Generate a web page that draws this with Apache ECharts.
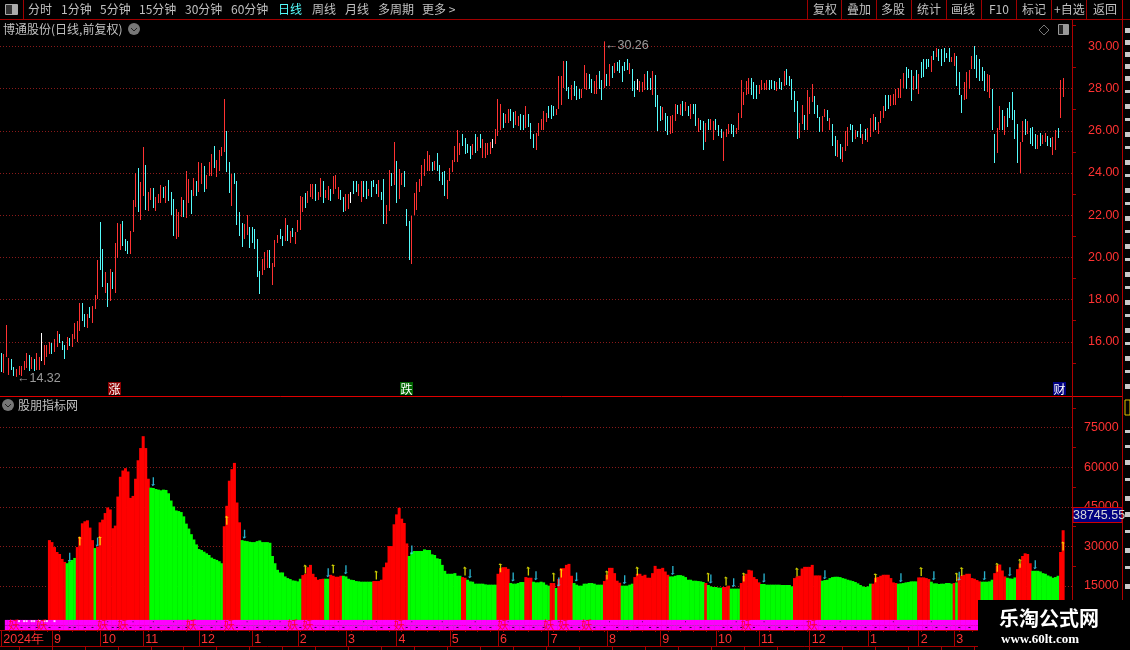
<!DOCTYPE html>
<html><head><meta charset="utf-8">
<style>html,body{margin:0;padding:0;background:#000}#c{width:1130px;height:650px}</style>
<script src="https://cdn.jsdelivr.net/npm/echarts@6/dist/echarts.min.js"></script>
</head><body><div id="c"></div>
<script>
const priceHigh=[
15.48,15.44,16.78,15.24,15.16,14.8,14.73,14.87,14.87,15.11,
15.48,15.35,15.29,15.16,15.48,15.29,16.4,15.83,15.83,16,
15.95,16.11,16.49,16.35,16.06,15.83,16.24,16.19,16.35,16.9,
16.97,17.86,17.83,17.3,17.3,17.67,17.7,18.2,19.87,21.67,
20.4,19.29,18.8,19.44,19.29,20.67,21.63,21.59,21.71,20.87,
20.79,21.24,22.71,24,24.25,23.55,25.25,24.4,23.1,23.3,
23.3,22.85,23,23.45,23.35,23.4,23.67,23.1,22.76,22.3,
22.16,22.85,22.7,24.1,23.7,23.2,23.75,23.6,24.5,24.45,
24.35,23.9,24.5,24.9,25.3,24.6,25.1,25.25,27.5,26,
24.5,23.95,24,23.63,22.14,21.62,21.6,22,21.43,21.43,
21.35,20.87,19.37,19.92,20.24,20.35,20.35,19.73,20.83,21.06,
21.35,21.03,21.87,21.54,21.27,21.4,21.19,21.75,22.9,22.85,
23.03,23.15,23.47,23.47,23.5,23.08,23.78,23.63,23.2,23.4,
23.24,23.84,23.92,23.35,23.2,22.85,23,23,23.1,23.6,
23.63,23.47,23.62,23.63,23.6,23.24,23.63,23.68,23.47,23.68,
23.11,23.73,22.49,24.14,24,25.49,24.59,24.2,24,24.1,
22.3,21.73,21.97,23.03,23.59,23.71,24.4,24.67,25.06,24.83,
24.54,24.59,24.97,24.37,24.06,24.11,23.68,24.22,24.63,25.3,
26.02,25.43,25.83,25.68,25.35,25.27,25.35,25.83,25.7,25.83,
25.62,25.44,25.41,25.46,25.59,26.1,27.49,27.25,26.86,26.78,
27.02,27.05,26.87,26.92,26.7,26.81,26.73,27.16,26.81,26.38,
25.86,25.89,26.38,26.57,26.92,26.86,27.16,27.21,27.16,27.02,
28.59,28.59,29.3,29.3,28.08,28.19,28.35,28.11,28,28,
29.11,28.76,28.68,28.44,28.35,28.63,28.83,28.43,30.26,28.68,
29.16,29.06,29.22,29.25,29.35,29.08,29.25,29.4,29.22,28.92,
28.35,28.44,28.35,28.29,28.68,28.83,28.52,28.83,28.63,27.68,
27.16,27.11,26.86,26.68,26.68,26.73,27.29,27.21,27.29,27.4,
27.37,27.16,27.25,27.25,27.29,26.62,26.49,26.44,26.38,26.57,
26.57,26.46,26.57,26.25,26.1,25.94,26.1,26.33,26.33,26.25,
26.14,26.86,28.4,27.84,28.35,28.51,28.48,28.29,28.19,28.16,
28.4,28.27,28.4,28.4,28.4,28.35,28.32,28.48,28.32,28.84,
28.92,28.59,28.44,27.89,27.4,26.37,27.21,26.73,27.92,27.6,
28.24,27.63,27.21,26.65,26.68,27.05,27,26.62,26.3,25.73,
25.54,25.35,25.22,26,26.17,26.33,26.25,26.05,25.98,26.3,
25.86,26.1,26.14,26.62,26.78,26.65,26.41,26.92,27.17,27.68,
27.68,27.68,27.76,28,28.03,28.44,28.75,29.03,28.92,28.87,
28.59,28.87,28.68,29.27,29.38,29.38,29.4,29.54,29.79,29.94,
29.86,29.86,29.94,29.7,29.9,29.5,29.7,29.54,28.79,27.71,
28.32,28.79,28.9,29.54,30,29.59,29.38,29.03,28.84,28.71,
28.63,28,25.86,26.14,27.16,26.97,26.68,27.1,27.37,27.84,
27,26.3,25.46,26.46,26.57,26.46,26.14,26.2,25.86,25.78,
25.9,25.78,25.9,25.75,25.67,25.7,26.06,26.14,28.4,28.49];
const priceLow=[
14.55,14.5,15.27,14.41,14.65,14.4,14.32,14.41,14.37,14.68,
14.75,14.63,14.71,14.63,14.68,14.68,15.11,14.92,15.27,15.43,
15.44,15.5,15.76,15.92,15.6,15.2,15.63,15.79,15.76,16.14,
15.98,16.51,16.98,16.71,16.63,17.14,16.87,17.54,18.05,19.41,
18.6,18.33,17.65,17.94,18.49,18.3,19.95,20.37,20.52,20.32,
20.16,20.16,21.22,22.37,22.13,21.79,22.9,22.25,22.2,22.7,
22.33,22.2,22.6,22.6,22.8,22.6,22.65,22.02,21.02,20.87,
20.95,21.9,21.9,21.87,22.6,22.06,22.9,22.9,23.1,23.5,
23.1,23.25,23.85,23.85,24.25,23.8,24.1,24.8,25,24.05,
23.05,22.45,23.5,21.54,21.03,20.5,20.87,21.06,20.44,20.68,
20.4,19.08,18.25,19.16,19.41,19.52,19.5,18.68,19.56,20.68,
20.87,20.56,20.79,20.79,20.68,20.95,20.63,21.22,21.3,22.17,
22.33,22.6,22.85,22.76,22.68,22.7,22.85,22.6,22.8,22.7,
22.65,23,23.24,22.76,22.7,22.17,22.22,22.27,22.6,23,
23.1,22.9,22.63,22.85,22.76,22.9,22.85,23.35,23,22.85,
22.73,21.6,21.6,22.2,23.37,23.44,22.6,22.79,23.44,23.32,
21.49,19.87,19.67,22.02,22.25,23.11,23.4,23.84,24.11,24.11,
24.11,24.16,24.11,23.6,23.44,22.89,22.79,23.63,24.06,24.54,
24.5,24.86,25.27,24.9,24.95,24.65,24.87,24.94,25.02,25.19,
24.7,24.7,24.87,24.9,25.17,25.38,25.75,26.02,26.13,26.38,
26.37,26.44,26.13,26.25,26.22,26.06,26.06,26.14,26.17,25.59,
25.17,25.11,25.75,26.06,26.05,26.41,26.62,26.57,26.68,26.73,
27.02,27.21,28.05,27.89,27.52,27.44,27.63,27.44,27.52,27.57,
28,27.95,28,27.79,27.76,27.73,28,27.44,28.05,28.11,
28.11,28.51,28.75,28.84,28.76,28.32,28.84,28.9,28.67,27.89,
27.6,27.92,27.84,27.84,27.95,27.92,27.92,27.68,27.13,25.98,
26.46,26.49,25.97,25.78,25.86,25.89,26.46,26.78,26.73,26.7,
26.92,26.68,26.54,26.78,26.21,25.94,26.02,25.11,25.49,26.02,
26.02,25.54,26.06,25.73,25.67,24.59,25.7,25.83,25.86,25.7,
25.83,26.02,26.62,27.21,27.68,27.76,27.68,27.49,27.52,27.76,
27.95,27.92,27.92,27.95,28,27.92,27.87,28,27.95,28.11,
28.19,28.11,27.44,26.89,25.59,25.67,26.33,26.05,26.05,26.78,
27.37,26.78,26.62,25.94,25.94,26.65,26.46,26.05,25.27,24.79,
24.75,24.67,24.5,25.02,25.3,26.06,25.49,25.62,25.7,25.67,
25.35,25.54,25.46,25.7,25.94,26.02,25.86,26.37,26.6,26.92,
27.05,27.17,27.21,27.21,27.56,27.56,28.03,28,28.48,27.4,
27.95,28,27.76,28.52,28.56,28.95,29.03,28.79,29.35,29.48,
29.3,29.08,29.27,29.45,29.27,29.24,29.08,28.11,27.68,26.84,
27.48,27.52,28,28.95,28.95,28.52,28.35,28.35,27.87,27.84,
27.57,26.06,24.46,24.95,26.02,26.05,25.78,26.17,26.6,26.52,
25.62,24.46,24,25.46,25.78,25.86,25.35,25.27,25.14,25.14,
25.27,25.38,25.46,25.27,25.22,24.87,25.11,25.65,26.6,27.6];
const priceDirRows=[
"crrrccrrrr","rcrcrrwrrr","crrcccrcrr","rrccrcrrrc","crcrcrrrcc",
"crrrcrrcrr","crrrcrcccr","rrcrrcrcrr","crrrcrrrrc","crccccrrcc",
"cccrrrcrrr","ccrcrcrrrr","crrrcrrcrr","crrrccrrwc","crrccrcccr",
"ccrrcrcrrc","ccrrrrrrrr","crccccrrrr","rrccccrcrc","rrrrwrrrcr",
"rccrrccrcc","crrrrrcccr","rrrccrcccr","rrccrrccrc","rcrcccccrc",
"cwrrrccrcc","crccrrrcrc","rcrccrccrc","rrcccrrrcc","rrrrrrcccr",
"rrrcccrccr","cccccrrcrr","rcccrrcrcc","rcrrrccrcc","rcrrrcrrrc",
"crrrrrrccc","rcrccccrcr","cccccrrccc","rrrrcccccr","rccrrcrccc",
"ccrrcrcccr","crrccrrcrr"];
const volumeValues=[
32375,31625,29750,27875,27125,25250,24125,
23625,24375,24875,25625,
29750,33625,38750,39500,39875,37125,32375,
29375,
29875,39125,40125,42625,44750,44000,36875,37875,48875,56375,58750,59625,58375,48375,49125,55625,62625,67250,71750,67250,55625,
52250,52125,51750,51500,51250,51500,51375,50125,47375,45125,43625,43375,43000,41375,38625,36750,34625,32625,30750,29000,28625,28000,27375,26750,25750,25250,24875,24375,23625,
37625,45375,54875,59250,61625,46625,39125,
32375,32125,32000,31750,31625,31625,32000,32250,31625,31625,31625,31375,26375,23625,21125,20125,20125,18625,18000,17625,17125,17000,16750,17750,
19125,19625,22125,23000,19625,18375,17375,17625,17750,
17750,17750,
19250,18875,18500,18500,18875,
18875,18625,17750,17375,17250,16875,16750,16625,16625,16625,16625,16625,
16875,16875,16875,17375,22125,23875,30125,30125,38375,42125,44625,40500,38875,31125,
26375,27750,28250,28250,28250,28250,28875,28625,28625,27000,26750,25500,25250,23000,20750,19625,19625,19625,19875,18875,18875,
18375,18125,
17375,16750,16625,15875,15875,15875,15875,15625,15500,15500,15500,15500,
19625,21750,22125,22125,21500,
16125,15875,15875,16125,16500,16500,
18375,18125,18125,
16625,16375,16375,16625,16375,15500,15125,
16125,16125,
14250,
17625,21750,21750,23000,23375,18875,
16125,15500,15125,15125,15875,15875,16125,16125,15875,15500,15500,15500,
16875,19250,21875,21875,19875,17000,16250,
15125,15125,15125,15500,15875,
18375,19625,19625,18875,19250,18125,18125,19875,22625,21500,21500,21875,20500,19250,
18625,18625,18875,19125,19125,18875,18375,17375,17375,17000,17000,16875,16750,16500,
16125,
15375,14875,14625,14625,14375,14375,
14625,14625,15125,
14000,14000,14000,14000,
16125,18875,19625,21125,20875,18375,17625,16375,
15750,15750,15500,15500,15500,15500,15500,15500,15375,15375,15375,15375,14875,
18000,18625,18875,21625,22250,22250,22250,23000,19000,19000,19000,
17000,17250,17375,18000,18375,18500,18500,18375,18000,17750,17375,17125,16875,16500,16000,15375,14875,14625,14875,15875,
15875,18125,18375,18875,19250,19250,19250,18000,16375,16125,
15875,16000,16125,16375,16500,16750,16750,16750,
18250,18250,18250,18000,17625,
16625,16000,16000,15750,15875,15875,16125,16125,15875,
16125,
16375,
18250,19000,19250,19625,19625,18000,17750,17250,16750,
16625,16625,16625,16750,17375,
19875,22750,23125,20875,18625,
18125,17875,17750,18250,
21375,23500,26375,27375,27125,23625,
20750,20750,20750,20500,19875,19625,19000,18625,18125,18375,18875,
27875,36125];
const volumeRuns=[7,4,7,1,21,29,7,24,9,2,5,12,14,21,2,12,5,6,3,7,2,1,6,12,7,5,14,14,1,6,3,4,8,13,11,20,10,8,5,9,1,1,9,5,5,4,6,11,2];
const volumeStart=19;
const priceTicks=[16,18,20,22,24,26,28,30];
const priceMinorTicks=[15,17,19,21,23,25,27,29,31];
const volTicks=[15000,30000,45000,60000,75000];
const volMinorTicks=[7500,22500,37500,52500,67500,82500];
const monthIdx=[0,20,39,56,78,99,117,136,156,177,196,216,239,260,282,299,319,342,362,376];
const monthNames=["2024年","9","10","11","12","1","2","3","4","5","6","7","8","9","10","11","12","1","2","3"];
const yaoIdx=[5,16,40,48,75,90,115,121,157,198,216,222,231,294,320];
const stripDotIdx=[8,11,14,19,23,27,29,33,36,44,46,51,55,59,62,66,70,73,79,83,87,93,96,101,104,108,112,118,124,127,131,135,140,146,150,153,160,164,168,171,176,180,185,189,193,202,206,210,214,225,228,234,238,243,247,251,256,259,263,268,272,276,279,285,288,292,297,303,307,310,314,325,329,333,337,341,345,349,354,358,365,369,373,378,382];
const stripTopDotIdx=[42,52,60,68,85,97,106,110,133,143,148,162,174,187,200,220,240,253,270,290,301,318,331,352,367];
const stripWhiteIdx=[7,9,10,12,13,15,17,18,21];
const toolbarLeft=[["分时",28],["1分钟",61],["5分钟",100],["15分钟",139],["30分钟",185],["60分钟",231],["日线",278,"#54fcfc"],["周线",312],["月线",345],["多周期",378],["更多 >",422]];
const toolbarRight=[["复权",813],["叠加",847],["多股",881],["统计",917],["画线",951],["F10",989],["标记",1022],["+自选",1054],["返回",1093]];
const toolbarSeps=[807.5,841.5,876.5,911.5,946.5,981.5,1016.5,1051.5,1086.5];
const badges=[["涨",108,"#8b0000"],["跌",400,"#006400"],["财",1053,"#000080"]];
const sideDashY=[28,40,52,64,76,90,104,118,132,146,160,174,188,202,216,230,244,258,272,286,300,314,328,342,356,370,384,430,445,460,478,496,512,530,548,566,584];

const CN='"Noto Sans CJK SC","Noto Sans",sans-serif';
const LAT='"Liberation Sans",Arial,sans-serif';
const RED='#ff3232',CY='#54fcfc',GRN='#00ff00',BR='#ff0000',AXIS='#a80000',DOT='#8a1a1a';
const N=423;
const categories=new Array(N).fill('');
monthIdx.forEach((m,i)=>categories[m]=monthNames[i]);
const monthSet=new Set(monthIdx);
const dirs=priceDirRows.join('');
const candles=priceHigh.map((h,i)=>[i,priceLow[i],h]);
const dirColor={r:RED,c:CY,w:'#ffffff'};
const volData=new Array(N).fill(null);
const upArrows=[],downArrows=[];
let p=0;
volumeRuns.forEach((len,r)=>{
  const red=r%2===0;
  const first=volumeStart+p;
  const firstVal=volumeValues[p];
  for(let k=0;k<len;k++){
    volData[volumeStart+p]={value:volumeValues[p],itemStyle:{color:red?BR:GRN}};
    p++;
  }
  if(r>0)(red?upArrows:downArrows).push([first+1,firstVal]);
});
const stripTop=categories.map((c,i)=>i>=2&&i<=386?2150:null);
const stripBottom=categories.map((c,i)=>i>=2&&i<=386?-1667:null);

const g=[];
const txt=(s,x,y,fill,size,extra)=>g.push(Object.assign({type:'text',z:50,x,y,style:Object.assign({text:s,fill,font:`${size||12}px ${CN}`,textVerticalAlign:'middle'},extra||{})}));
const rect=(x,y,w,h,fill,stroke,z)=>g.push({type:'rect',z:z||50,shape:{x,y,width:w,height:h},style:{fill:fill||'none',stroke:stroke||'none',lineWidth:1}});
const line=(x1,y1,x2,y2,c,z)=>g.push({type:'line',z:z||40,shape:{x1,y1,x2,y2},style:{stroke:c,lineWidth:1}});
line(0,19.5,1130,19.5,'#a00000');
line(0,396.5,1123,396.5,'#e00000');
line(1072.5,20,1072.5,630,'#b00000');
line(1122.5,0,1122.5,600,'#b00000');
line(23.5,0,23.5,19,'#a00000');
rect(5.5,4.5,12,10,'#333','#aaa');rect(12,5,5,9,'#aaa');
toolbarLeft.forEach(t=>txt(t[0],t[1],9.5,t[2]||'#c0c0c0',12));
toolbarRight.forEach(t=>txt(t[0],t[1],9.5,'#c0c0c0',12));
toolbarSeps.forEach(x=>line(x,0,x,19,'#a00000'));
txt('博通股份(日线,前复权)',3,29.5,'#c0c0c0',12);
g.push({type:'circle',z:50,shape:{cx:134,cy:29,r:6},style:{fill:'#777'}});
g.push({type:'polyline',z:51,shape:{points:[[131,28],[134,31],[137,28]]},style:{stroke:'#222',lineWidth:1,fill:'none'}});
g.push({type:'polygon',z:50,shape:{points:[[1044,25],[1049,30],[1044,35],[1039,30]]},style:{stroke:'#777',fill:'none',lineWidth:1}});
rect(1058.5,24.5,10,10,'#222','#999');rect(1063,25,5,9,'#999');
g.push({type:'circle',z:50,shape:{cx:8,cy:405,r:6},style:{fill:'#777'}});
g.push({type:'polyline',z:51,shape:{points:[[5,404],[8,407],[11,404]]},style:{stroke:'#222',lineWidth:1,fill:'none'}});
txt('股朋指标网',18,405.5,'#c0c0c0',12);
badges.forEach(b=>{rect(b[1],382,13,13,b[2]);txt(b[0],b[1]+0.5,389,'#ffffff',12);});
rect(1073,507.5,49,15,'#000080','#d00000',60);
txt('38745.55',1073,515.5,'#d8d8d8',12.5,{font:`12.5px ${LAT}`});g[g.length-1].z=61;
sideDashY.forEach(y=>rect(1125,y,5,y%4===0?5:3,'#c8c8c8'));
rect(1125,400,5,15,'#000','#e0c000');
rect(978,600,152,50,'#000',null,100);
txt('乐淘公式网',999,618.5,'#ffffff',20,{font:`bold 20px ${CN}`});g[g.length-1].z=101;
txt('www.60lt.com',1001,640,'#ffffff',13,{font:'bold 13px "Liberation Serif",serif'});g[g.length-1].z=101;

const chart=echarts.init(document.getElementById('c'),null,{renderer:'canvas'});
const dotted=vals=>({silent:true,symbol:'none',animation:false,z:1,label:{show:false},
  lineStyle:{type:[1,2],color:DOT,width:1},data:vals.map(v=>({yAxis:v}))});
const upPath='path://M2 0L4 2L3 2L3 10L2 10L2 2L1 2Z';
const downPath='path://M2 10L4 8L3 8L3 0L2 0L2 8L1 8Z';
chart.setOption({
  backgroundColor:'#000',animation:false,
  textStyle:{fontFamily:LAT},
  grid:[{left:0,right:58,top:20,height:376},{left:0,right:58,top:397,height:233}],
  xAxis:[
    {type:'category',gridIndex:0,data:categories,show:false},
    {type:'category',gridIndex:1,data:categories,boundaryGap:true,
      axisLine:{onZero:false,lineStyle:{color:AXIS}},
      axisTick:{show:true,alignWithLabel:true,length:16,lineStyle:{color:AXIS},interval:i=>monthSet.has(i)},
      axisLabel:{interval:0,color:RED,fontSize:12.5,fontFamily:LAT,align:'left',margin:3,padding:[0,0,0,2],hideOverlap:false}},
    {type:'category',gridIndex:1,data:categories,position:'bottom',
      axisLine:{show:false,onZero:false},axisLabel:{show:false},
      axisTick:{show:true,alignWithLabel:true,length:2,lineStyle:{color:AXIS},interval:i=>i%5===3}},
    {type:'category',gridIndex:1,data:categories,position:'bottom',offset:16,
      axisLine:{show:true,onZero:false,lineStyle:{color:AXIS}},axisLabel:{show:false},
      axisTick:{show:true,alignWithLabel:true,length:4,lineStyle:{color:AXIS},interval:i=>i%13===7}}
  ],
  yAxis:[
    {type:'value',gridIndex:0,position:'right',min:13.43,max:31.25,scale:true,
      axisLine:{show:true,lineStyle:{color:AXIS}},splitLine:{show:false},
      axisTick:{show:true,length:4,lineStyle:{color:AXIS},customValues:priceMinorTicks},
      axisLabel:{color:RED,fontSize:12.5,fontFamily:LAT,margin:16,align:'left',customValues:priceTicks,formatter:v=>v.toFixed(2)}},
    {type:'value',gridIndex:1,position:'right',min:-1667,max:86590,
      axisLine:{show:true,lineStyle:{color:AXIS}},splitLine:{show:false},
      axisTick:{show:true,length:4,lineStyle:{color:AXIS},customValues:volMinorTicks},
      axisLabel:{color:RED,fontSize:12.5,fontFamily:LAT,margin:12,align:'left',customValues:volTicks,formatter:v=>String(v)}}
  ],
  graphic:{elements:g},
  series:[
    {type:'custom',xAxisIndex:0,yAxisIndex:0,data:candles,z:3,encode:{x:0,y:[1,2]},clip:true,
      renderItem:(params,api)=>{
        const top=api.coord([api.value(0),api.value(2)]);
        const bot=api.coord([api.value(0),api.value(1)]);
        return {type:'rect',shape:{x:Math.floor(top[0]),y:Math.round(top[1]),width:1,height:Math.round(bot[1])-Math.round(top[1])},
          style:{fill:dirColor[dirs[params.dataIndex]]}};
      },
      markLine:dotted(priceTicks)},
    {type:'scatter',xAxisIndex:0,yAxisIndex:0,symbolSize:1,z:4,
      data:[[6,14.32,'←14.32',0,1],[238,30.26,'←30.26',0,4]],
      itemStyle:{color:'#000'},
      label:{show:true,position:'right',distance:0,color:'#c0c0c0',fontSize:12.5,fontFamily:LAT,
        formatter:o=>o.value[2]},
      labelLayout:o=>({dy:o.dataIndex===1?5:1})},
    {type:'bar',xAxisIndex:1,yAxisIndex:1,data:volData,barWidth:3,barGap:'-100%',z:2,
      markLine:dotted(volTicks)},
    {type:'bar',xAxisIndex:1,yAxisIndex:1,data:stripTop,barWidth:3,barGap:'-100%',itemStyle:{color:'#ff00ff'},z:3},
    {type:'bar',xAxisIndex:1,yAxisIndex:1,data:stripBottom,barWidth:3,barGap:'-100%',itemStyle:{color:'#ff00ff'},z:3},
    {type:'scatter',xAxisIndex:1,yAxisIndex:1,symbol:'rect',symbolSize:[2,1],z:5,itemStyle:{color:'#000'},
      data:stripDotIdx.map(i=>[i,-700])},
    {type:'scatter',xAxisIndex:1,yAxisIndex:1,symbol:'rect',symbolSize:[1,1],z:5,itemStyle:{color:'#1a1a1a'},
      data:stripTopDotIdx.map(i=>[i,1500])},
    {type:'scatter',xAxisIndex:1,yAxisIndex:1,symbol:'rect',symbolSize:[2,2],z:5,itemStyle:{color:'#ffffff'},
      data:stripWhiteIdx.map(i=>[i,1700])},
    {type:'scatter',xAxisIndex:1,yAxisIndex:1,symbolSize:1,z:6,itemStyle:{color:'#ff0000'},
      data:yaoIdx.map(i=>[i,250]),
      label:{show:true,position:'inside',formatter:'妖',color:'#ff0000',fontSize:11,fontFamily:CN}},
    {type:'scatter',xAxisIndex:1,yAxisIndex:1,symbol:upPath,symbolSize:[4,9],symbolOffset:[0,-6],z:7,itemStyle:{color:'#ffff00'},data:upArrows},
    {type:'scatter',xAxisIndex:1,yAxisIndex:1,symbol:downPath,symbolSize:[4,9],symbolOffset:[0,-6],z:7,itemStyle:{color:'#33ddff'},data:downArrows}
  ]
});
</script></body></html>
